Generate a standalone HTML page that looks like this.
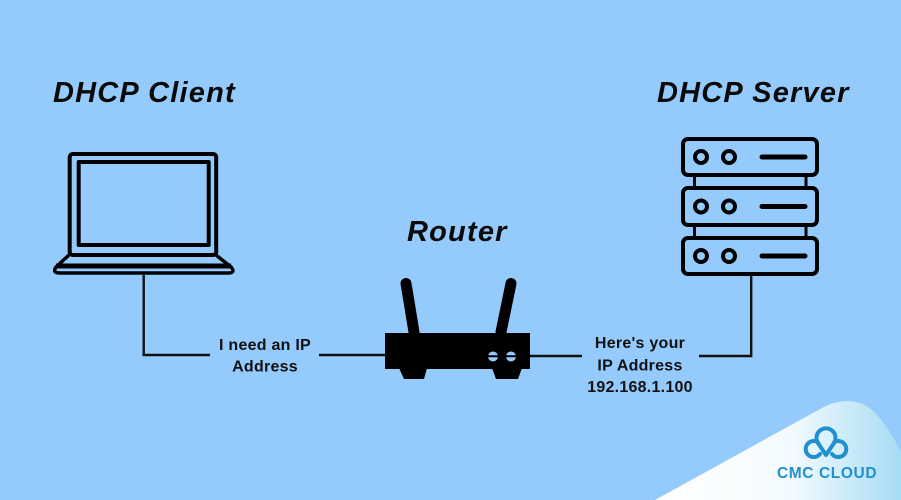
<!DOCTYPE html>
<html>
<head>
<meta charset="utf-8">
<style>
  html,body{margin:0;padding:0;}
  body{width:901px;height:500px;overflow:hidden;background:#95cafc;}
  svg{display:block;}
  .title{font-family:"Liberation Sans",sans-serif;font-weight:bold;font-style:italic;font-size:29px;letter-spacing:1.2px;fill:#0a0a0a;}
  .lbl{font-family:"Liberation Sans",sans-serif;font-weight:bold;font-size:16px;letter-spacing:0.25px;fill:#111;}
  .logo{font-family:"Liberation Sans",sans-serif;font-weight:bold;font-size:15.5px;letter-spacing:0.6px;fill:#1f8fd0;}
</style>
</head>
<body>
<svg width="901" height="500" viewBox="0 0 901 500" xmlns="http://www.w3.org/2000/svg">
  <defs>
    <linearGradient id="sw" x1="0" y1="0" x2="1" y2="0">
      <stop offset="0" stop-color="#ffffff"/>
      <stop offset="0.55" stop-color="#f4fbfe"/>
      <stop offset="1" stop-color="#a6dcf4"/>
    </linearGradient>
  </defs>
  <rect width="901" height="500" fill="#95cafc"/>

  <!-- Titles -->
  <text class="title" x="53" y="102">DHCP Client</text>
  <text class="title" x="657" y="102">DHCP Server</text>
  <text class="title" x="407" y="241">Router</text>

  <!-- Laptop -->
  <g fill="none" stroke="#000" stroke-linejoin="round">
    <rect x="69.7" y="154" width="146.5" height="101" rx="3" stroke-width="4"/>
    <rect x="78.7" y="162" width="130" height="83" stroke-width="4"/>
    <path d="M69 255 L56 267 Q52 273 60 273 L228 273 Q236 273 231 267 L216 255" stroke-width="3.5"/>
    <line x1="56" y1="266" x2="231" y2="266" stroke-width="5"/>
  </g>

  <!-- Connectors -->
  <g stroke="#111" stroke-width="2.4" fill="none">
    <polyline points="143.7,275 143.7,355 210,355"/>
    <line x1="319" y1="355" x2="386" y2="355"/>
    <line x1="529" y1="356" x2="582" y2="356"/>
    <polyline points="699,356 751.2,356 751.2,276"/>
  </g>

  <!-- Labels -->
  <text class="lbl" x="265" y="350" text-anchor="middle">I need an IP</text>
  <text class="lbl" x="265" y="371.5" text-anchor="middle">Address</text>
  <text class="lbl" x="640" y="348" text-anchor="middle">Here's your</text>
  <text class="lbl" x="640" y="370.5" text-anchor="middle">IP Address</text>
  <text class="lbl" x="640" y="392" text-anchor="middle">192.168.1.100</text>

  <!-- Router -->
  <g>
    <line x1="406" y1="283.5" x2="414" y2="332" stroke="#000" stroke-width="11" stroke-linecap="round"/>
    <line x1="511" y1="283.5" x2="501" y2="332" stroke="#000" stroke-width="11" stroke-linecap="round"/>
    <rect x="385" y="333" width="145" height="36" fill="#000"/>
    <polygon points="399,368 427,368 424,379 404,379" fill="#000"/>
    <polygon points="492,368 522,368 518,379 496,379" fill="#000"/>
    <circle cx="493" cy="356.5" r="5" fill="#95cafc"/>
    <circle cx="511" cy="356.5" r="5" fill="#95cafc"/>
    <line x1="486" y1="356.3" x2="518" y2="356.3" stroke="#000" stroke-width="2"/>
  </g>

  <!-- Server -->
  <g fill="none" stroke="#000">
    <line x1="694.5" y1="175" x2="694.5" y2="189" stroke-width="3"/>
    <line x1="806" y1="175" x2="806" y2="189" stroke-width="3"/>
    <line x1="694.5" y1="224" x2="694.5" y2="239" stroke-width="3"/>
    <line x1="806" y1="224" x2="806" y2="239" stroke-width="3"/>
    <rect x="683" y="139" width="134" height="36" rx="5" stroke-width="4"/>
    <rect x="683" y="188" width="134" height="37" rx="5" stroke-width="4"/>
    <rect x="683" y="238" width="134" height="36" rx="5" stroke-width="4"/>
    <circle cx="701" cy="157" r="6" stroke-width="4"/>
    <circle cx="729" cy="157" r="6" stroke-width="4"/>
    <circle cx="701" cy="206.5" r="6" stroke-width="4"/>
    <circle cx="729" cy="206.5" r="6" stroke-width="4"/>
    <circle cx="701" cy="256" r="6" stroke-width="4"/>
    <circle cx="729" cy="256" r="6" stroke-width="4"/>
    <line x1="762" y1="157" x2="805" y2="157" stroke-width="5" stroke-linecap="round"/>
    <line x1="762" y1="206.5" x2="805" y2="206.5" stroke-width="5" stroke-linecap="round"/>
    <line x1="762" y1="256" x2="805" y2="256" stroke-width="5" stroke-linecap="round"/>
  </g>

  <!-- CMC Cloud swoosh + logo -->
  <path d="M655 500 L822 408 C838 399 858 398 872 410 C885 422 895 440 901 452 L901 500 Z" fill="url(#sw)"/>
  <g fill="none" stroke="#1f8fd0" stroke-width="4" stroke-linecap="round" stroke-linejoin="round">
    <path d="M818 443 A9.5 9.5 0 1 1 834 443"/>
    <path d="M818 443 L826 455 L834 443"/>
    <path d="M817.5 442 A8 8 0 1 0 820 454"/>
    <path d="M834.5 442 A8 8 0 1 1 832 454"/>
  </g>
  <text class="logo" x="777" y="478">CMC CLOUD</text>
</svg>
</body>
</html>
